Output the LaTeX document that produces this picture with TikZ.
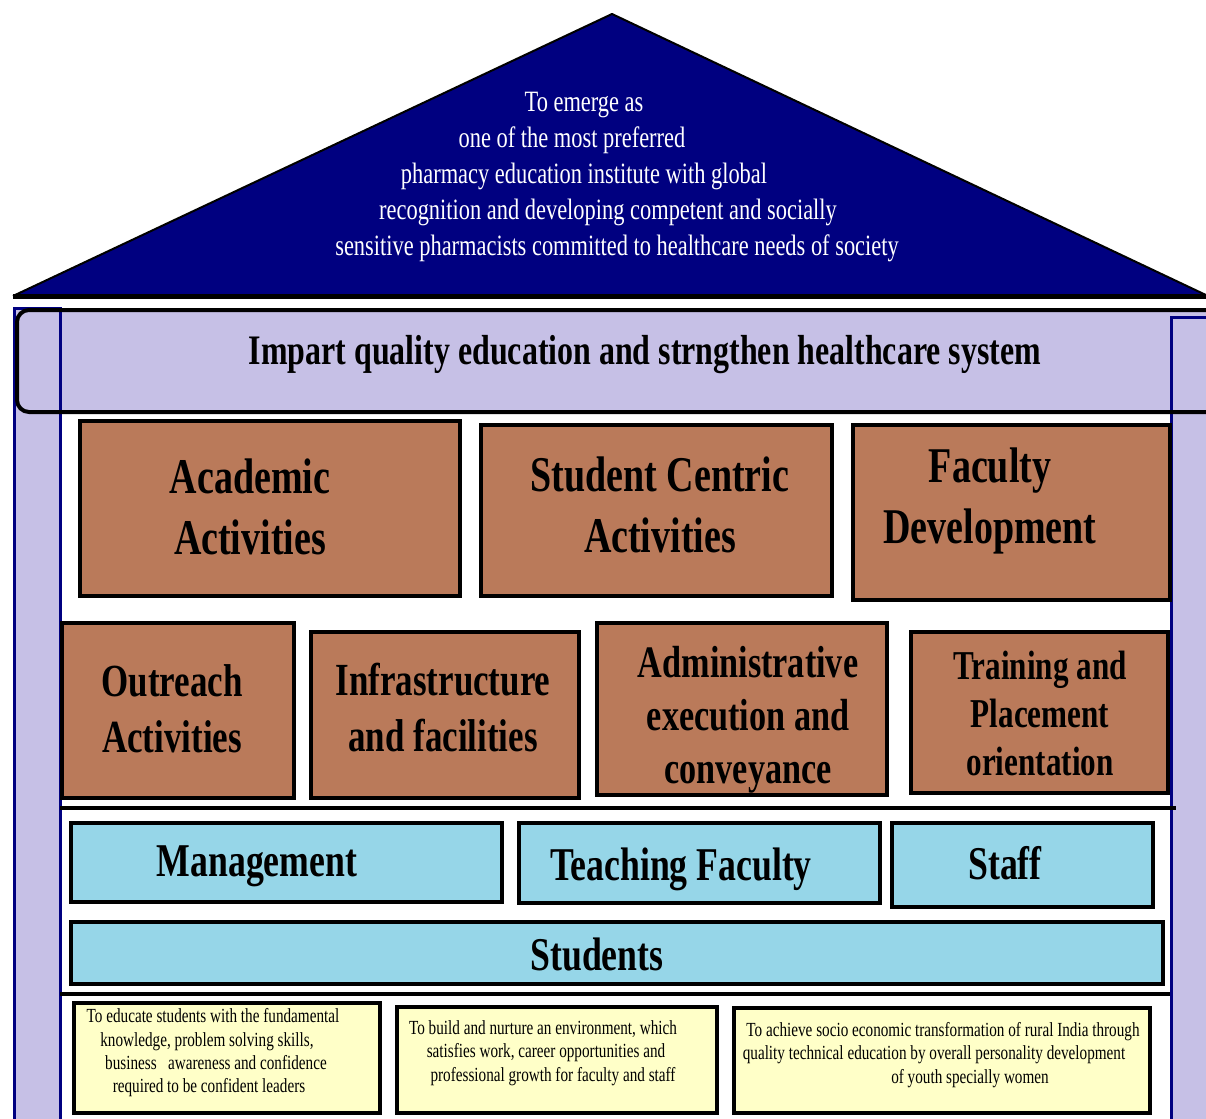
\documentclass[tikz,border=0pt]{standalone}
\usepackage{fontspec}
\setmainfont{Liberation Serif}[FakeStretch=0.76]
\definecolor{roofc}{RGB}{0,0,128}
\definecolor{lav}{RGB}{198,192,230}
\definecolor{brn}{RGB}{186,122,90}
\definecolor{lblue}{RGB}{150,214,232}
\definecolor{yel}{RGB}{255,255,200}
\begin{document}
\begin{tikzpicture}[x=1pt,y=-1pt,
 brownbox/.style={fill=brn,draw=black,line width=4pt},
 bluebox/.style={fill=lblue,draw=black,line width=4pt},
 yelbox/.style={fill=yel,draw=black,line width=4pt},
 pillar/.style={fill=lav,draw=roofc,line width=3pt},
 txt/.style={align=center,inner sep=0pt,text=black},
 big/.style={txt,font=\bfseries\fontsize{50}{61}\selectfont},
 mid/.style={txt,font=\bfseries\fontsize{46}{56}\selectfont},
 blu/.style={txt,font=\bfseries\fontsize{47}{56}\selectfont},
 small/.style={txt,font=\fontsize{20}{23.3}\selectfont}]
\useasboundingbox[fill=white] (0,0) rectangle (1206,1118);
\begin{scope}
\clip (0,0) rectangle (1206,1118);
% roof
\fill[roofc] (13,296) -- (612,14) -- (1208,296) -- cycle;
\draw[black,line width=2pt,line join=round] (13,296) -- (612,14) -- (1208,296);
\draw[black,line width=5pt] (13,296) -- (1212,296);
% banner fill
\fill[lav,rounded corners=12pt] (17,310) rectangle (1240,412);
% pillars
\draw[pillar] (14,308) rectangle (60,1130);
\draw[pillar] (1171,317) rectangle (1230,1130);
% banner border
\draw[black,line width=4pt,rounded corners=12pt] (17,310) rectangle (1240,412);
% floor lines
\draw[black,line width=4pt] (60,808) -- (1176,808);
\draw[black,line width=3.5pt] (60,994) -- (1170,994);
% boxes row 1
\draw[brownbox] (80,421) rectangle (460,596);
\draw[brownbox] (481,425) rectangle (832,596);
\draw[brownbox] (853,425) rectangle (1170,600);
% row 2
\draw[brownbox] (62,623) rectangle (294,798);
\draw[brownbox] (311,632) rectangle (579,798);
\draw[brownbox] (597,623) rectangle (887,795);
\draw[brownbox] (911,632) rectangle (1168,793);
% row 3
\draw[bluebox] (71,823) rectangle (502,902);
\draw[bluebox] (519,823) rectangle (880,903);
\draw[bluebox] (892,823) rectangle (1153,907);
\draw[bluebox] (71,922) rectangle (1163,984);
% row 4
\draw[yelbox] (74,1003) rectangle (380,1113);
\draw[yelbox] (397,1007) rectangle (717,1113);
\draw[yelbox] (734,1008) rectangle (1150,1113);
\end{scope}
% texts
\node[txt,text=white,font=\fontsize{29.5}{36}\selectfont] (vision) at (617,177)
 {To emerge as\rule{66pt}{0pt}\\ one of the most preferred\rule{90pt}{0pt}\\ pharmacy education institute with global\rule{66pt}{0pt}\\ recognition and developing competent and socially\rule{18pt}{0pt}\\ sensitive pharmacists committed to healthcare needs of society};
\node[txt,font=\bfseries\fontsize{42}{50}\selectfont] (mission) at (645,355)
 {Impart quality education and strngthen healthcare system};
\node[big] (acad) at (250,507) {Academic\\Activities};
\node[big] (stud) at (660,505) {Student Centric\\Activities};
\node[big] (fac) at (990,501) {Faculty\\Development};
\node[mid] (outr) at (172,709) {Outreach\\Activities};
\node[mid] (infra) at (443,708) {Infrastructure\\and facilities};
\node[txt,font=\bfseries\fontsize{45}{53}\selectfont] (admin) at (748,720) {Administrative\\execution and\\conveyance};
\node[txt,font=\bfseries\fontsize{41}{48}\selectfont] (train) at (1040,713) {Training and\\Placement\\orientation};
\node[blu] (mgmt) at (257,866) {Management};
\node[blu] (teach) at (681,869) {Teaching Faculty};
\node[blu] (staff) at (1005,863) {Staff};
\node[blu] (studs) at (597,954) {Students};
\node[small] (goal1) at (213,1053) {To educate students with the fundamental\\ knowledge, problem solving skills,\rule{12pt}{0pt}\\ \rule{6pt}{0pt}business\ \ \ awareness and confidence\\ required to be confident leaders\rule{8pt}{0pt}};
\node[small] (goal2) at (543,1053) {To build and nurture an environment, which\\ \rule{6pt}{0pt}satisfies work, career opportunities and\\ \rule{20pt}{0pt}professional growth for faculty and staff};
\node[small] (goal3) at (943,1055) {To achieve socio economic transformation of rural India through\\ quality technical education by overall personality development\rule{18pt}{0pt}\\ \rule{54pt}{0pt}of youth specially women};
\end{tikzpicture}
\end{document}
